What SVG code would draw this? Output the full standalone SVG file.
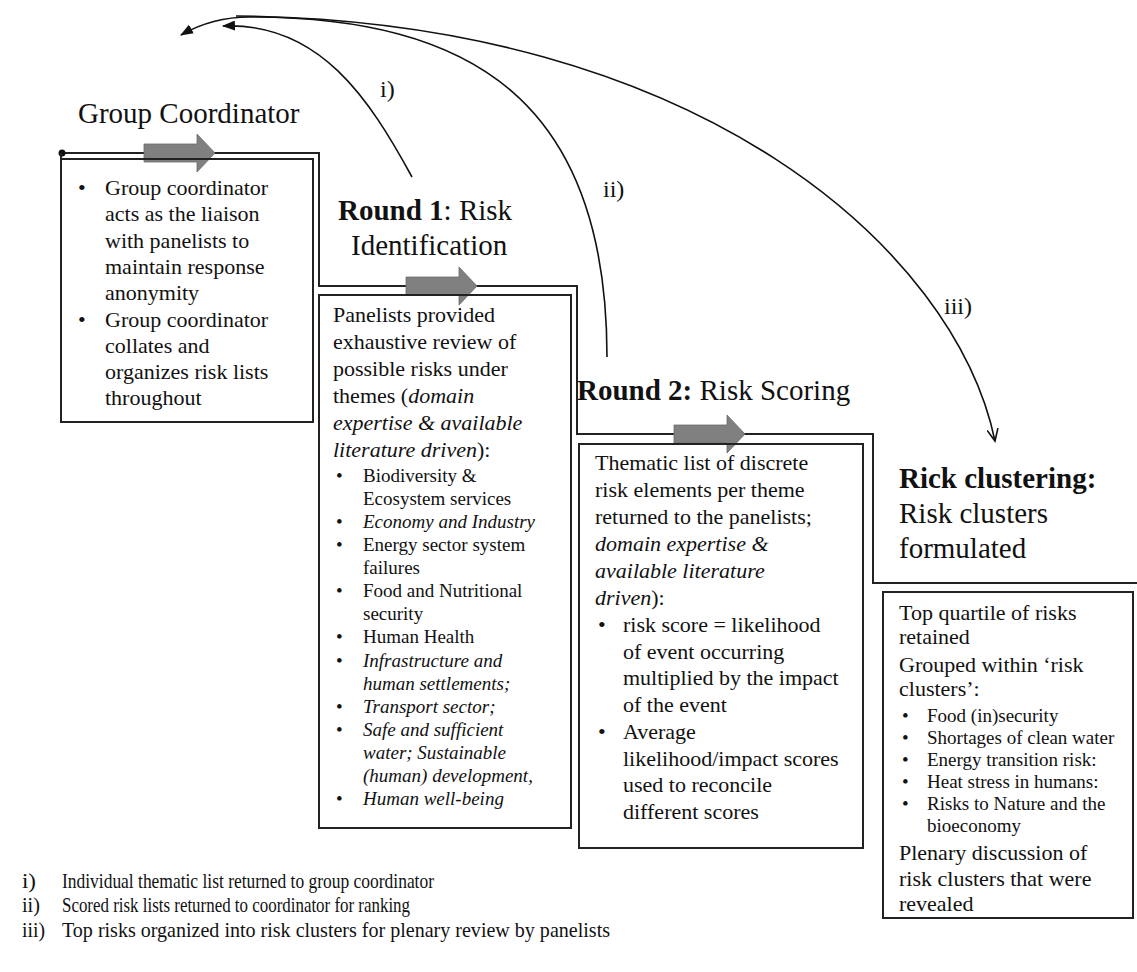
<svg xmlns="http://www.w3.org/2000/svg" width="1137" height="972" viewBox="0 0 1137 972">
<style>
text{font-family:"Liberation Serif","Times New Roman",serif;fill:#111}
.h{font-size:29px}
.b{font-size:22px}
.s{font-size:19px}
.lg{font-size:22px}
.lab{font-size:24px}
.it{font-style:italic}
.bd{font-weight:bold}
.box{fill:none;stroke:#222;stroke-width:2}
.step{fill:none;stroke:#222;stroke-width:2}
.arr{fill:#808080;stroke:#6a6a6a;stroke-width:0.8}
.cur{fill:none;stroke:#111;stroke-width:1.6}
</style>
<defs>
<marker id="tri" markerWidth="14" markerHeight="10" refX="12" refY="5" orient="auto" markerUnits="userSpaceOnUse">
<path d="M0,0 L13,5 L0,10 Z" fill="#111"/>
</marker>
<marker id="vee" markerWidth="14" markerHeight="12" refX="12" refY="6" orient="auto" markerUnits="userSpaceOnUse">
<path d="M0,0.5 L12,6 L0,11.5" fill="none" stroke="#111" stroke-width="1.6"/>
</marker>
</defs>

<g id="connectors">
<path class="step" d="M62,153 H319 V286 H577 V434 H873 V583 H1137"/>
<circle cx="62" cy="153" r="3.5" fill="#111"/>
<path class="arr" d="M144,144 H197 V134 L215,153 L197,172 V162 H144 Z"/>
<path class="arr" d="M406,277 H459 V267 L477,286 L459,305 V295 H406 Z"/>
<path class="arr" d="M674,425 H727 V415 L745,434 L727,453 V443 H674 Z"/>
<path class="cur" d="M412,177 C370,100 320,22 223,26" marker-end="url(#tri)"/>
<path class="cur" d="M607,357 C607,100 470,17 250,17 C225,17 200,24 181,35" marker-end="url(#tri)"/>
<path class="cur" d="M236,16 C700,20 955,250 995,441" marker-end="url(#vee)"/>
<text class="lab" x="380" y="97">i)</text>
<text class="lab" x="603" y="197">ii)</text>
<text class="lab" x="944" y="314">iii)</text>
</g>

<g id="group-coordinator">
<text class="h" x="78" y="123">Group Coordinator</text>
<rect class="box" x="61" y="159" width="252" height="263"/>
<line class="box" x1="61" y1="153" x2="61" y2="160"/>
<g class="b">
<text x="78" y="195">•</text><text x="105" y="195">Group coordinator</text>
<text x="105" y="221">acts as the liaison</text>
<text x="105" y="248">with panelists  to</text>
<text x="105" y="274">maintain  response</text>
<text x="105" y="300">anonymity</text>
<text x="78" y="327">•</text><text x="105" y="327">Group coordinator</text>
<text x="105" y="353">collates and</text>
<text x="105" y="379">organizes risk lists</text>
<text x="105" y="405">throughout</text>
</g>
</g>

<g id="round1">
<text class="h" x="338" y="220"><tspan class="bd">Round 1</tspan>: Risk</text>
<text class="h" x="351" y="255">Identification</text>
<rect class="box" x="319" y="295" width="252" height="533"/>
<g class="b">
<text x="333" y="322">Panelists provided</text>
<text x="333" y="349">exhaustive review of</text>
<text x="333" y="376">possible risks under</text>
<text x="333" y="403">themes (<tspan class="it">domain</tspan></text>
<text x="333" y="430" class="it">expertise  &amp; available</text>
<text x="333" y="457"><tspan class="it">literature driven</tspan>):</text>
</g>
<g class="s">
<text x="336" y="482">•</text><text x="363" y="482">Biodiversity &amp;</text>
<text x="363" y="505">Ecosystem services</text>
<text x="336" y="528">•</text><text x="363" y="528" class="it">Economy and Industry</text>
<text x="336" y="551">•</text><text x="363" y="551">Energy  sector system</text>
<text x="363" y="574">failures</text>
<text x="336" y="597">•</text><text x="363" y="597">Food and Nutritional</text>
<text x="363" y="620">security</text>
<text x="336" y="643">•</text><text x="363" y="643">Human Health</text>
<text x="336" y="667">•</text><text x="363" y="667" class="it">Infrastructure and</text>
<text x="363" y="690" class="it">human settlements;</text>
<text x="336" y="713">•</text><text x="363" y="713" class="it">Transport sector;</text>
<text x="336" y="736">•</text><text x="363" y="736" class="it">Safe and sufficient</text>
<text x="363" y="759" class="it">water; Sustainable</text>
<text x="363" y="782" class="it">(human) development,</text>
<text x="336" y="805">•</text><text x="363" y="805" class="it">Human well-being</text>
</g>
</g>

<g id="round2">
<text class="h" x="577" y="400"><tspan class="bd">Round 2:</tspan> Risk Scoring</text>
<rect class="box" x="579" y="444" width="284" height="404"/>
<g class="b">
<text x="595" y="470">Thematic list of discrete</text>
<text x="595" y="497">risk elements per theme</text>
<text x="595" y="524">returned to the panelists;</text>
<text x="595" y="551" class="it">domain expertise  &amp;</text>
<text x="595" y="578" class="it">available literature</text>
<text x="595" y="605"><tspan class="it">driven</tspan>):</text>
<text x="598" y="632">•</text><text x="623" y="632">risk score = likelihood</text>
<text x="623" y="659">of event occurring</text>
<text x="623" y="685">multiplied  by the impact</text>
<text x="623" y="712">of the event</text>
<text x="598" y="739">•</text><text x="623" y="739">Average</text>
<text x="623" y="766">likelihood/impact  scores</text>
<text x="623" y="792">used to reconcile</text>
<text x="623" y="819">different scores</text>
</g>
</g>

<g id="risk-clustering">
<text class="h bd" x="899" y="488">Rick clustering:</text>
<text class="h" x="899" y="523">Risk clusters</text>
<text class="h" x="899" y="558">formulated</text>
<rect class="box" x="883" y="592" width="250" height="326"/>
<g class="b">
<text x="899" y="620">Top quartile  of risks</text>
<text x="899" y="644">retained</text>
<text x="899" y="672">Grouped within  ‘risk</text>
<text x="899" y="696">clusters’:</text>
</g>
<g class="s">
<text x="902" y="722">•</text><text x="927" y="722">Food (in)security</text>
<text x="902" y="744">•</text><text x="927" y="744">Shortages  of clean  water</text>
<text x="902" y="766">•</text><text x="927" y="766">Energy  transition risk:</text>
<text x="902" y="788">•</text><text x="927" y="788">Heat stress in humans:</text>
<text x="902" y="810">•</text><text x="927" y="810">Risks to Nature and the</text>
<text x="927" y="832">bioeconomy</text>
</g>
<g class="b">
<text x="899" y="860">Plenary discussion of</text>
<text x="899" y="886">risk clusters that were</text>
<text x="899" y="911">revealed</text>
</g>
</g>

<g id="legend" class="lg">
<text x="22" y="888" textLength="14" lengthAdjust="spacingAndGlyphs">i)</text><text x="62" y="888" textLength="372" lengthAdjust="spacingAndGlyphs">Individual  thematic list  returned to group coordinator</text>
<text x="22" y="912" textLength="18" lengthAdjust="spacingAndGlyphs">ii)</text><text x="62" y="912" textLength="348" lengthAdjust="spacingAndGlyphs">Scored risk lists returned to coordinator for ranking</text>
<text x="22" y="937" textLength="23" lengthAdjust="spacingAndGlyphs">iii)</text><text x="62" y="937" textLength="548" lengthAdjust="spacingAndGlyphs">Top risks organized into  risk clusters for plenary review by panelists</text>
</g>
</svg>
